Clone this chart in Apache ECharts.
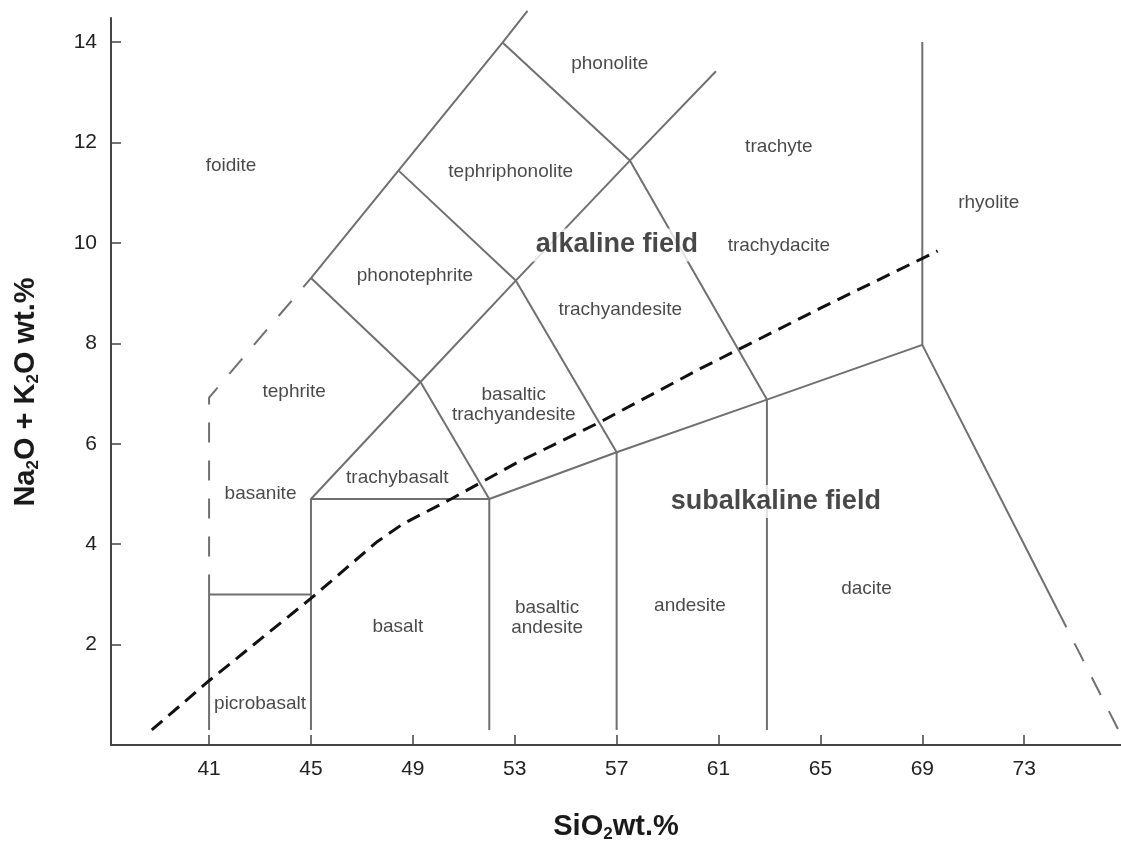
<!DOCTYPE html>
<html>
<head>
<meta charset="utf-8">
<script src="https://cdn.jsdelivr.net/npm/echarts@6/dist/echarts.min.js"></script>
<style>html,body{margin:0;padding:0;background:#fff}#c{width:1121px;height:848px}</style>
</head>
<body>
<div id="c"></div>
<script>
// ---- tick labels ----
const xTicks = [41, 45, 49, 53, 57, 61, 65, 69, 73];
const yTicks = [2, 4, 6, 8, 10, 12, 14];

// ---- field boundaries (SiO2, Na2O+K2O) ----
const picroTop = [[41, 0.3], [41, 3], [45, 3]];
const basaltBox = [[45, 0.3], [45, 4.9], [52, 4.9], [52, 0.3]];
const subalkTop = [[52, 4.9], [57, 5.83], [62.9, 6.88], [69, 7.97]];
const andesiteLeft = [[57, 0.3], [57, 5.83]];
const daciteLeft = [[62.9, 0.3], [62.9, 6.88]];
const rhyoliteEdge = [[69, 14], [69, 7.97], [74.3, 2.7]];
const rhyoliteEdgeDash = [[74.3, 2.7], [76.8, 0.2]];
const diagonalMid = [[45, 4.9], [49.3, 7.23], [53.04, 9.25], [57.52, 11.64], [60.9, 13.42]];
const trachybasaltRight = [[49.3, 7.23], [52, 4.9]];
const phonotephriteLow = [[45, 9.3], [49.3, 7.23]];
const diagonalUpper = [[45, 9.3], [52.52, 13.99], [53.5, 14.62]];
const phonotephriteHigh = [[48.42, 11.45], [53.04, 9.25], [57, 5.83]];
const phonoliteLow = [[52.52, 13.99], [57.52, 11.64], [62.9, 6.88]];
const foiditeDash = [[41, 3], [41, 6.92], [45, 9.3]];
const alkalineDivide = [[38.75, 0.3], [41, 1.28], [45, 2.92], [47.6, 4.05], [48.6, 4.4], [50.5, 4.9], [53, 5.6], [56.3, 6.42], [60.3, 7.5], [65, 8.7], [69.6, 9.84]];

// ---- rock names and anchor points ----
const rockNames = ['foidite', 'phonolite', 'tephriphonolite', 'trachyte', 'rhyolite', 'trachydacite', 'phonotephrite', 'trachyandesite', 'tephrite', 'basaltic\ntrachyandesite', 'trachybasalt', 'basanite', 'basaltic\nandesite', 'andesite', 'dacite', 'basalt', 'picrobasalt'];
const rockSiO2 = [41.86, 56.73, 52.84, 63.37, 71.61, 63.37, 49.08, 57.14, 44.34, 52.96, 48.39, 43.02, 54.27, 59.88, 66.81, 48.41, 43.0];
const rockAlk = [11.54, 13.57, 11.41, 11.92, 10.8, 9.95, 9.35, 8.67, 7.03, 6.78, 5.33, 5.01, 2.54, 2.77, 3.11, 2.35, 0.82];

const fieldNames = ['alkaline field', 'subalkaline field'];
const fieldSiO2 = [57.01, 63.25];
const fieldAlk = [9.96, 4.85];

const FONT = "'Liberation Sans', Arial, Helvetica, sans-serif";
const grayLine = { color: '#707070', width: 2, type: 'solid' };
const grayDash = { color: '#707070', width: 2, type: [20, 18] };
const blackDash = { color: '#111111', width: 3, type: [14, 8] };

function lineSeries(data, style) {
  return { type: 'line', data: data, symbol: 'none', silent: true, clip: false, z: 2, lineStyle: style };
}

const richName = {
  b: { fontSize: 29, fontWeight: 'bold', color: '#1a1a1a', fontFamily: FONT, lineHeight: 32 },
  s: { fontSize: 17, fontWeight: 'bold', color: '#1a1a1a', fontFamily: FONT, lineHeight: 17, verticalAlign: 'bottom' }
};

const option = {
  animation: false,
  backgroundColor: '#ffffff',
  grid: { left: 111, right: 0, top: 18, bottom: 95 },
  xAxis: {
    type: 'value', min: 37.15, max: 76.8,
    axisLine: { lineStyle: { color: '#444', width: 2 } },
    axisTick: { inside: true, length: 10, customValues: xTicks, lineStyle: { color: '#444', width: 1.5 } },
    axisLabel: { customValues: xTicks, margin: 14, fontSize: 21, color: '#222', fontFamily: FONT },
    splitLine: { show: false },
    name: '{b|SiO}{s|2}{b|wt.%}',
    nameLocation: 'middle', nameGap: 66,
    nameTextStyle: { rich: richName }
  },
  yAxis: {
    type: 'value', min: 0, max: 14.48,
    axisLine: { lineStyle: { color: '#444', width: 2 } },
    axisTick: { inside: true, length: 10, customValues: yTicks, lineStyle: { color: '#444', width: 1.5 } },
    axisLabel: { customValues: yTicks, margin: 14, fontSize: 21, color: '#222', fontFamily: FONT },
    splitLine: { show: false },
    name: '{b|Na}{s|2}{b|O + K}{s|2}{b|O wt.%}',
    nameLocation: 'middle', nameGap: 69, nameRotate: 90,
    nameTextStyle: { rich: richName, padding: [0, 21, 0, 0] }
  },
  series: [
    lineSeries(picroTop, grayLine),
    lineSeries(basaltBox, grayLine),
    lineSeries(subalkTop, grayLine),
    lineSeries(andesiteLeft, grayLine),
    lineSeries(daciteLeft, grayLine),
    lineSeries(rhyoliteEdge, grayLine),
    lineSeries(rhyoliteEdgeDash, grayDash),
    lineSeries(diagonalMid, grayLine),
    lineSeries(trachybasaltRight, grayLine),
    lineSeries(phonotephriteLow, grayLine),
    lineSeries(diagonalUpper, grayLine),
    lineSeries(phonotephriteHigh, grayLine),
    lineSeries(phonoliteLow, grayLine),
    lineSeries(foiditeDash, grayDash),
    lineSeries(alkalineDivide, blackDash),
    {
      type: 'scatter', silent: true, z: 6, symbolSize: 1,
      itemStyle: { color: 'rgba(0,0,0,0)' },
      data: rockNames.map((n, i) => ({ name: n, value: [rockSiO2[i], rockAlk[i]] })),
      label: { show: true, position: 'inside', formatter: p => p.name, fontSize: 19, lineHeight: 20, color: '#1a1a1a', fontFamily: FONT, align: 'center' }
    },
    {
      type: 'scatter', silent: true, z: 8, symbolSize: 1,
      itemStyle: { color: 'rgba(0,0,0,0)' },
      data: fieldNames.map((n, i) => ({ name: n, value: [fieldSiO2[i], fieldAlk[i]] })),
      label: { show: true, position: 'inside', formatter: p => p.name, fontSize: 27, fontWeight: 'bold', color: '#1a1a1a', fontFamily: FONT, backgroundColor: '#ffffff', padding: [3, 5] }
    }
  ]
};

const chart = echarts.init(document.getElementById('c'), null, { renderer: 'canvas' });
chart.setOption(option);
</script>
</body>
</html>
